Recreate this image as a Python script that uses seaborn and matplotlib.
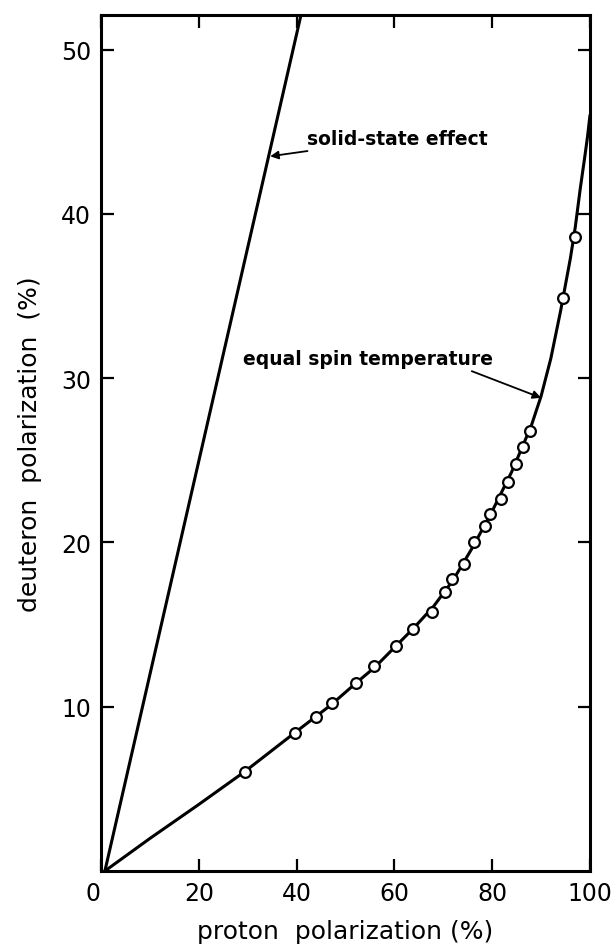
import matplotlib
matplotlib.use("Agg")
import matplotlib.pyplot as plt
import pandas as pd
import seaborn as sns

# measured points (equal spin temperature data)
proton_pts = [29.4, 39.7, 43.9, 47.3, 52.2, 55.8, 60.4, 63.9, 67.6, 70.4, 71.7,
              74.3, 76.3, 78.5, 79.6, 81.8, 83.3, 84.8, 86.3, 87.7, 94.5, 96.9]
deuteron_pts = [6.0, 8.4, 9.4, 10.2, 11.45, 12.5, 13.7, 14.7, 15.75, 17.0, 17.8,
                18.7, 20.0, 21.0, 21.7, 22.65, 23.7, 24.8, 25.8, 26.8, 34.9, 38.6]

# equal spin temperature curve
est_x = [0.8, 10, 20, 29.4, 40, 47, 52, 56, 60, 64, 68, 72, 76, 80, 84, 88,
         90, 92, 94, 95, 96, 97, 98, 99, 99.5, 100]
est_y = [0, 1.98, 4.05, 6.05, 8.5, 10.1, 11.4, 12.4, 13.6, 14.8, 16.1, 17.7, 19.7,
         21.9, 24.3, 27.1, 28.9, 31.2, 34.1, 35.7, 37.3, 39.2, 41.5, 43.6, 44.7, 46.0]

# solid-state effect line
sse_x = [0.8, 40.9]
sse_y = [0, 52.1]

x_ticks = [0, 20, 40, 60, 80, 100]
y_ticks = [10, 20, 30, 40, 50]

sns.set_style("ticks")
plt.rcParams["font.family"] = ["DejaVu Sans"]
plt.rcParams.update({"text.color": "black", "axes.labelcolor": "black",
                     "xtick.color": "black", "ytick.color": "black",
                     "axes.edgecolor": "black"})

fig = plt.figure(figsize=(6.15, 9.53), dpi=100)
ax = fig.add_axes([0.1642, 0.085, 0.7951, 0.8982])

curve = pd.DataFrame({"x": est_x, "y": est_y})
line = pd.DataFrame({"x": sse_x, "y": sse_y})
pts = pd.DataFrame({"proton": proton_pts, "deuteron": deuteron_pts})

sns.lineplot(data=line, x="x", y="y", ax=ax, color="black", lw=2.2, sort=False)
sns.lineplot(data=curve, x="x", y="y", ax=ax, color="black", lw=2.2, sort=False)
sns.scatterplot(data=pts, x="proton", y="deuteron", ax=ax, s=60,
                facecolor="white", edgecolor="black", linewidth=1.6, zorder=3)

ax.set_xlim(0, 100)
ax.set_ylim(0, 52.1)

ax.set_xticks(x_ticks)
ax.set_xticklabels([str(v) for v in x_ticks])
ax.set_yticks(y_ticks)
ax.set_yticklabels([str(v) for v in y_ticks])
ax.tick_params(axis="both", which="major", direction="in", length=9, width=1.6,
               top=True, right=True, labelsize=17, pad=7)
# the "0" sits left of the corner
ax.get_xticklabels()[0].set_horizontalalignment("right")

for sp in ax.spines.values():
    sp.set_linewidth(2.2)

ax.set_xlabel("proton  polarization (%)", fontsize=18, labelpad=10)
ax.set_ylabel("deuteron  polarization  (%)", fontsize=18, labelpad=14)

ax.annotate("solid-state effect", xy=(34.6, 43.5), xytext=(42.2, 44.6),
            fontsize=13.5, fontweight="bold", va="center", ha="left",
            arrowprops=dict(arrowstyle="-|>", color="black", lw=1.3,
                            shrinkA=0, shrinkB=0, mutation_scale=12))
ax.annotate("equal spin temperature", xy=(90.0, 28.8), xytext=(29.1, 31.2),
            fontsize=13.5, fontweight="bold", va="center", ha="left",
            arrowprops=dict(arrowstyle="-|>", color="black", lw=1.3,
                            shrinkA=0, shrinkB=0, mutation_scale=12,
                            relpos=(0.88, 0.0)))

fig.savefig("out.png", dpi=100)
